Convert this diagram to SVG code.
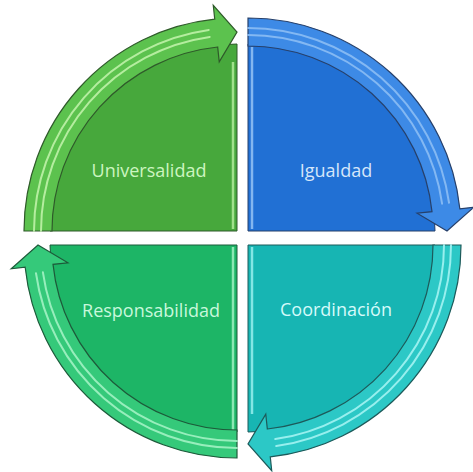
<svg xmlns="http://www.w3.org/2000/svg" width="473" height="472" viewBox="0 0 473 472">
  <style>
    .lbl { font-family: "Open Sans", "DejaVu Sans", sans-serif; font-size: 18px; text-anchor: middle; }
    .pie { stroke-width: 1; }
    .band { stroke-width: 1.2; stroke-linejoin: miter; }
    .stripe { fill: none; stroke-width: 2; stroke-linecap: round; opacity: 0.85; }
    .edge { stroke-width: 2.5; opacity: 0.8; }
  </style>
  <rect width="473" height="472" fill="#ffffff"/>

  <g id="universalidad">
    <path class="pie" d="M237,231 L50,231 A187,187 0 0 1 237,44 Z" fill="#47a83c" stroke="#2f5a2a"/>
    <line class="edge" x1="233" y1="62" x2="233" y2="229" stroke="#b8f0a0"/>
    <text class="lbl" x="149" y="177" fill="#cdf5c0">Universalidad</text>
  </g>

  <g id="igualdad">
    <path class="pie" d="M248,231 L248,44 A187,187 0 0 1 435,231 Z" fill="#2170d4" stroke="#27406a"/>
    <line class="edge" x1="252" y1="47" x2="252" y2="229" stroke="#9cc8f8"/>
    <text class="lbl" x="336" y="177" fill="#d5e6fa">Igualdad</text>
  </g>

  <g id="coordinacion">
    <path class="pie" d="M248,245 L435,245 A187,187 0 0 1 248,432 Z" fill="#17b5b3" stroke="#1d5a5a"/>
    <line class="edge" x1="252" y1="247" x2="252" y2="414" stroke="#9ff3f2"/>
    <text class="lbl" x="336" y="316" fill="#d5fafa">Coordinación</text>
  </g>

  <g id="responsabilidad">
    <path class="pie" d="M237,245 L237,432 A187,187 0 0 1 50,245 Z" fill="#1db566" stroke="#1d5a3a"/>
    <line class="edge" x1="233" y1="247" x2="233" y2="430" stroke="#a8f5c8"/>
    <text class="lbl" x="151" y="317" fill="#c8f8dc">Responsabilidad</text>
  </g>

  <g id="connectors">
    <g id="arrow-tl">
      <path class="band" d="M24,231 A213,213 0 0 1 214.74,19.17 L213.27,5.24 L237,32 L219.23,61.93 L217.66,47.01 A185,185 0 0 0 52,231 Z" fill="#5cc24e" stroke="#2f5a2a"/>
      <path class="stripe" d="M41,231 A196,196 0 0 1 209.72,36.91" stroke="#c4f5ae"/>
      <path class="stripe" d="M34,231 A203,203 0 0 1 208.75,29.98" stroke="#c4f5ae"/>
    </g>
    <g id="arrow-tr">
      <path class="band" d="M248,18 A213,213 0 0 1 459.83,208.74 L473.76,207.27 L447,231 L417.07,213.23 L431.99,211.66 A185,185 0 0 0 248,46 Z" fill="#3d8ae6" stroke="#27406a"/>
      <path class="stripe" d="M248,35 A196,196 0 0 1 442.09,203.72" stroke="#8fbff5"/>
      <path class="stripe" d="M248,28 A203,203 0 0 1 449.02,202.75" stroke="#8fbff5"/>
    </g>
    <g id="arrow-br">
      <path class="band" d="M461,245 A213,213 0 0 1 270.26,456.83 L271.73,470.76 L248,444 L265.77,414.07 L267.34,428.99 A185,185 0 0 0 433,245 Z" fill="#2cc8c6" stroke="#1d5a5a"/>
      <path class="stripe" d="M444,245 A196,196 0 0 1 275.28,439.09" stroke="#aaf6f5"/>
      <path class="stripe" d="M451,245 A203,203 0 0 1 276.25,446.02" stroke="#aaf6f5"/>
    </g>
    <g id="arrow-bl">
      <path class="band" d="M237,458 A213,213 0 0 1 25.17,267.26 L11.24,268.73 L38,245 L67.93,262.77 L53.01,264.34 A185,185 0 0 0 237,430 Z" fill="#35c97a" stroke="#1d5a3a"/>
      <path class="stripe" d="M237,441 A196,196 0 0 1 42.91,272.28" stroke="#a8f5c8"/>
      <path class="stripe" d="M237,448 A203,203 0 0 1 35.98,273.25" stroke="#a8f5c8"/>
    </g>
  </g>
</svg>
